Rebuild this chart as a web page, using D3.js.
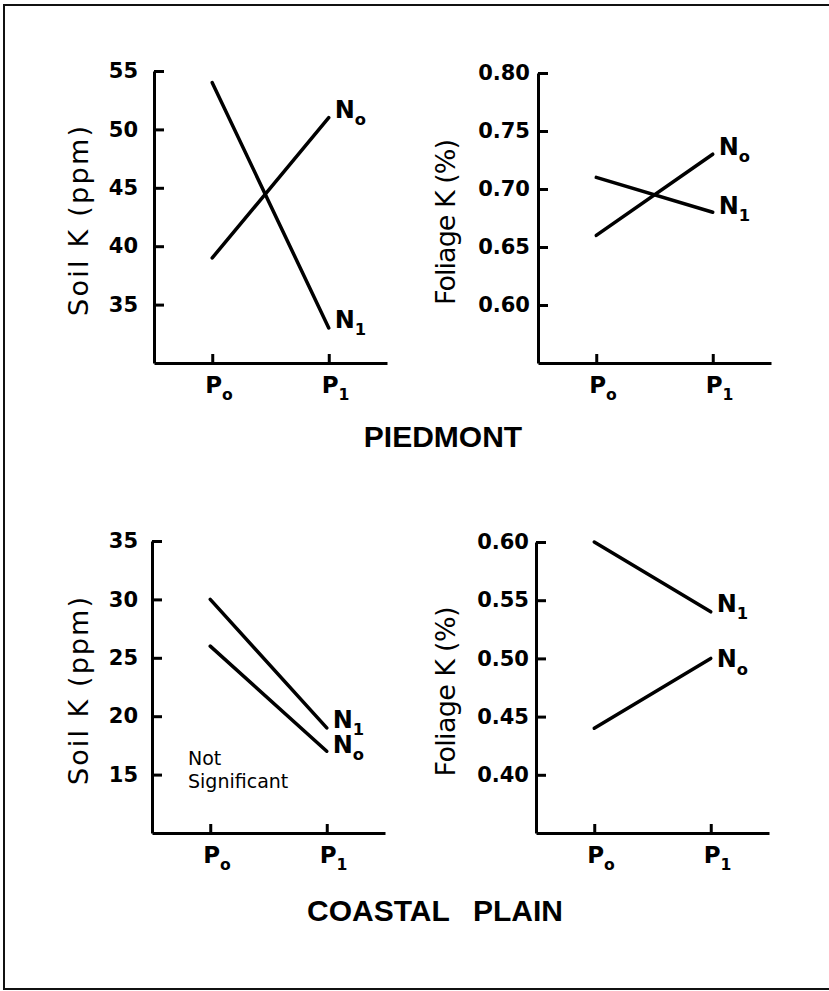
<!DOCTYPE html>
<html lang="en">
<head>
<meta charset="utf-8">
<title>Soil and foliage K</title>
<script src="https://cdn.jsdelivr.net/npm/d3@7"></script>
<style>
  body { margin: 0; background: #fff; }
  svg { display: block; }
  .axis path, .axis line { stroke: #000; stroke-width: 3px; }
  .axis text { font-family: "DejaVu Sans", sans-serif; font-weight: bold; font-size: 21px; fill: #000; }
  .series { fill: none; stroke: #000; stroke-width: 3.5px; stroke-linecap: round; }
  .lbl { font-family: "DejaVu Sans", sans-serif; fill: #000; }
  .title { font-family: "Liberation Sans", sans-serif; font-weight: bold; font-size: 30px; fill: #000; }
</style>
</head>
<body>
<div id="chart"></div>
<script>
// categories
var treatments = ["P0", "P1"];
var seriesNames = ["N0", "N1"];

// Piedmont
var piedmontSoilN0 = [39, 51];
var piedmontSoilN1 = [54, 33];
var piedmontFoliageN0 = [0.66, 0.73];
var piedmontFoliageN1 = [0.71, 0.68];

// Coastal plain
var coastalSoilN0 = [26, 17];
var coastalSoilN1 = [30, 19];
var coastalFoliageN0 = [0.44, 0.50];
var coastalFoliageN1 = [0.60, 0.54];

// tick values
var piedmontSoilTicks = [35, 40, 45, 50, 55];
var piedmontFoliageTicks = [0.60, 0.65, 0.70, 0.75, 0.80];
var coastalSoilTicks = [15, 20, 25, 30, 35];
var coastalFoliageTicks = [0.40, 0.45, 0.50, 0.55, 0.60];

var W = 829, H = 991;

var svg = d3.select("#chart").append("svg")
    .attr("width", W)
    .attr("height", H);

// frame (open on the right side)
svg.append("path")
    .attr("d", "M" + W + ",5H4V989H" + W)
    .attr("fill", "none")
    .attr("stroke", "#111")
    .attr("stroke-width", 2);

var panels = [
  {x0: 154, x1: 387, top: 71, bottom: 363, domain: [30, 55], ticks: piedmontSoilTicks, fmt: d3.format("d"),
   pad: 16, label: "Soil K (ppm)", labelX: 88, labelLen: 190,
   n0: piedmontSoilN0, n1: piedmontSoilN1, dy: [0, 0]},
  {x0: 538, x1: 771, top: 73, bottom: 363, domain: [0.55, 0.80], ticks: piedmontFoliageTicks, fmt: d3.format(".2f"),
   pad: 8, label: "Foliage K (%)", labelX: 455, labelLen: 166,
   n0: piedmontFoliageN0, n1: piedmontFoliageN1, dy: [1, 2]},
  {x0: 152, x1: 385, top: 541, bottom: 833, domain: [10, 35], ticks: coastalSoilTicks, fmt: d3.format("d"),
   pad: 14, label: "Soil K (ppm)", labelX: 88, labelLen: 188,
   n0: coastalSoilN0, n1: coastalSoilN1, dy: [2, 0]},
  {x0: 536, x1: 769, top: 542, bottom: 833, domain: [0.35, 0.60], ticks: coastalFoliageTicks, fmt: d3.format(".2f"),
   pad: 7, label: "Foliage K (%)", labelX: 455, labelLen: 170,
   n0: coastalFoliageN0, n1: coastalFoliageN1, dy: [9, 0]}
];

// text with a subscript, e.g. N + o
function subText(g, x, y, main, sub, size) {
  var t = g.append("text")
      .attr("class", "lbl")
      .attr("x", x)
      .attr("y", y)
      .style("font-weight", "bold")
      .style("font-size", size + "px");
  t.append("tspan").text(main);
  t.append("tspan")
      .attr("dy", size * 0.3)
      .style("font-size", (size * 0.68) + "px")
      .text(sub);
  return t;
}

panels.forEach(function(p) {
  var g = svg.append("g");

  var x = d3.scalePoint().domain(treatments).range([p.x0, p.x1]).padding(0.5);
  var y = d3.scaleLinear().domain(p.domain).range([p.bottom, p.top]);

  g.append("g")
      .attr("class", "axis")
      .attr("transform", "translate(" + p.x0 + ",0)")
      .call(d3.axisLeft(y).tickValues(p.ticks).tickFormat(p.fmt)
          .tickSizeInner(-10).tickSizeOuter(0).tickPadding(p.pad));

  g.append("g")
      .attr("class", "axis")
      .attr("transform", "translate(0," + p.bottom + ")")
      .call(d3.axisBottom(x).tickSizeInner(-9).tickSizeOuter(0).tickFormat(""));

  // P0 / P1 labels
  treatments.forEach(function(t) {
    subText(g, x(t) - 7, p.bottom + 30, t.charAt(0), t.slice(1) === "0" ? "o" : "1", 23);
  });

  // y title
  g.append("text")
      .attr("class", "lbl")
      .attr("transform", "translate(" + p.labelX + "," + ((p.top + p.bottom) / 2 + 4) + ") rotate(-90)")
      .attr("text-anchor", "middle")
      .attr("textLength", p.labelLen)
      .attr("lengthAdjust", "spacing")
      .style("font-size", "27px")
      .text(p.label);

  var line = d3.line()
      .x(function(d, i) { return x(treatments[i]); })
      .y(function(d) { return y(d); });

  [p.n0, p.n1].forEach(function(vals, k) {
    g.append("path")
        .datum(vals)
        .attr("class", "series")
        .attr("d", line);
    var name = seriesNames[k];
    subText(g, x(treatments[1]) + 6, y(vals[1]) + p.dy[k], name.charAt(0),
        name.slice(1) === "0" ? "o" : "1", 24);
  });
});

// note in the lower left panel
var note = svg.append("text")
    .attr("class", "lbl")
    .attr("x", 188)
    .attr("y", 765)
    .style("font-size", "19px");
note.append("tspan").text("Not");
note.append("tspan").attr("x", 188).attr("dy", 23).text("Significant");

// region titles
svg.append("text")
    .attr("class", "title")
    .attr("x", 443)
    .attr("y", 447)
    .attr("text-anchor", "middle")
    .text("PIEDMONT");

var ct = svg.append("text")
    .attr("class", "title")
    .attr("x", 307)
    .attr("y", 921);
ct.append("tspan").text("COASTAL");
ct.append("tspan").attr("x", 473).text("PLAIN");
</script>
</body>
</html>
